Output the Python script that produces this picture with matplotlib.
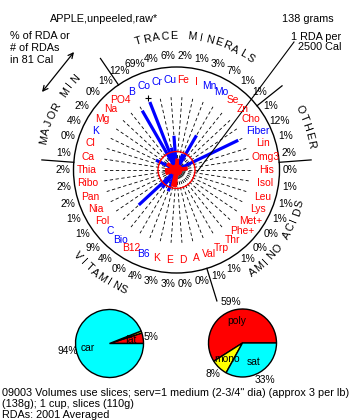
import numpy as np
import matplotlib.pyplot as plt

plt.rcParams['font.family'] = ['Liberation Sans', 'DejaVu Sans']

# nutrients clockwise, starting just above 9 o'clock
nutrients = ['Ca', 'Cl', 'K', 'Mg', 'Na', 'PO4',
             'B', 'Co', 'Cr', 'Cu', 'Fe', 'I', 'Mn', 'Mo', 'Se', 'Zn',
             'Cho', 'Fiber', 'Lin', 'Omg3',
             'His', 'Isol', 'Leu', 'Lys', 'Met+', 'Phe+', 'Thr', 'Trp', 'Val',
             'A', 'D', 'E', 'K', 'B6', 'B12', 'Bio', 'C', 'Fol', 'Nia', 'Pan', 'Ribo', 'Thia']
pct_rda = [1, 0, 4, 2, 0, 1,
           12, 69, 4, 6, 2, 1, 3, 7, 1, 1,
           1, 12, 1, 2,
           0, 1, 1, 1, 0, 0, 1, 1, 1,
           0, 0, 3, 3, 4, 0, 4, 9, 1, 1, 2, 2, 2]
# 1 = more than 1 RDA per 2500 Cal
over_rda = [0, 0, 1, 0, 0, 0,
            1, 1, 1, 1, 0, 0, 1, 1, 0, 0,
            0, 1, 0, 0,
            0, 0, 0, 0, 0, 0, 0, 0, 0,
            0, 0, 0, 0, 1, 0, 1, 1, 0, 0, 0, 0, 0]
groups = ['MAJOR MIN', 'TRACE MINERALS', 'OTHER', 'AMINO ACIDS', 'VITAMINS']
group_sizes = [6, 10, 4, 9, 13]

calories = 81
ref_cal = 2500

energy_labels = ['fat', '', 'car']
energy_pct = [5, 1, 94]
fat_labels = ['poly', 'mono', 'sat']
fat_pct = [59, 8, 33]

# layout (pixel units, y up)
W, H = 352, 420
CX, CY = 176.5, 250
R = 103
R_RED = 18.5
R_SPOKE = 73
R_LAB = 90
R_PCT = 114
sec_r = [136, 134, 137, 128, 131]
sec_step = [3.7, 3.85, 3.8, 3.76, 3.6]
sec_shift = [2.6, 0, -3, 0, 2]
FS = 7.8
FS_S = 7.4

fig = plt.figure(figsize=(W / 100, H / 100), dpi=100)
ax = fig.add_axes([0, 0, 1, 1])

n = len(nutrients)
step = 360 / n
ang = np.radians(180 - (np.arange(n) + 1) * step)


def pt(r, a):
    return CX + r * np.cos(a), CY + r * np.sin(a)


# dashed spokes
for a in ang:
    x1, y1 = pt(R_SPOKE, a)
    ax.plot([CX, x1], [CY, y1], color='black', lw=0.6, ls=(0, (4, 3)), zorder=1)

# bars
rda_unit = calories / ref_cal * 100
for i, a in enumerate(ang):
    L = pct_rda[i] / rda_unit * R_RED
    col = 'blue' if over_rda[i] else 'red'
    capped = L > R_SPOKE
    L = min(L, R_SPOKE)
    x1, y1 = pt(L, a)
    ax.plot([CX, x1], [CY, y1], color=col, lw=2.3 if col == 'blue' else 2.8,
            solid_capstyle='butt', zorder=3 if col == 'red' else 2)
    if capped:
        xp, yp = pt(R_SPOKE + 4, a)
        ax.plot(xp, yp, marker='+', color='black', ms=4, mew=0.8)

ax.add_patch(plt.Circle((CX, CY), R, fill=False, color='black', lw=1))
ax.add_patch(plt.Circle((CX, CY), R_RED, fill=False, color='red', lw=1, zorder=4))

# labels and percentages
for i, a in enumerate(ang):
    x, y = pt(R_LAB, a)
    ax.text(x, y, nutrients[i], color='blue' if over_rda[i] else 'red',
            fontsize=FS_S, ha='center', va='center')
    x, y = pt(R_PCT, a)
    ax.text(x, y, f'{pct_rda[i]}%', fontsize=FS_S, ha='center', va='center')

# group dividers and names
start = 0
for g, name in enumerate(groups):
    a0 = np.radians(180 - (start + 0.5) * step)
    r_out = 137 if g == 4 else 135
    xa, ya = pt(R, a0)
    xb, yb = pt(r_out, a0)
    ax.plot([xa, xb], [ya, yb], color='black', lw=0.9)
    mid = 180 - (start + group_sizes[g] / 2 + 0.5) * step + sec_shift[g]
    chars = list(name)
    m = len(chars)
    top = g < 3
    for j, ch in enumerate(chars):
        off = (j - (m - 1) / 2) * sec_step[g]
        a_deg = mid - off if top else mid + off
        x, y = pt(sec_r[g], np.radians(a_deg))
        rot = a_deg - 90 if top else a_deg + 90
        ax.text(x, y, ch, fontsize=FS, ha='center', va='center',
                rotation=rot, rotation_mode='anchor')
    start += group_sizes[g]

# 1 RDA pointer
ax.plot([294, 197], [378, 248], color='black', lw=0.8)
ax.annotate('', xy=(42, 328), xytext=(74, 368),
            arrowprops=dict(arrowstyle='<->', lw=0.9, color='black',
                            mutation_scale=9, shrinkA=0, shrinkB=0))


# pies
def pie(vals, labels, center, colors, pctd):
    w, t, at = ax.pie(vals, labels=labels, colors=colors, startangle=0,
                      counterclock=True, center=center, radius=34, frame=True,
                      labeldistance=0.66, pctdistance=pctd,
                      autopct=lambda p: f'{p:.0f}%' if p >= 2 else '',
                      wedgeprops=dict(edgecolor='black', linewidth=1),
                      textprops=dict(fontsize=FS_S))
    for tt in t:
        tt.set_ha('center')
        tt.set_va('center')


pie(energy_pct, energy_labels, (109.5, 76.5), ['red', 'yellow', 'cyan'], 1.25)
pie(fat_pct, fat_labels, (242.5, 77), ['red', 'yellow', 'cyan'], 1.27)

# texts
ax.text(50, 401, 'APPLE,unpeeled,raw*', fontsize=FS, va='center')
ax.text(282, 401, '138 grams', fontsize=FS, va='center')
for k, s in enumerate(['% of RDA or', '# of RDAs', 'in 81 Cal']):
    ax.text(10, 384 - 12 * k, s, fontsize=FS, va='center')
ax.text(341, 383, '1 RDA per', fontsize=FS, va='center', ha='right')
ax.text(341, 373, '2500 Cal', fontsize=FS, va='center', ha='right')
foot = ['09003 Volumes use slices; serv=1 medium (2-3/4" dia) (approx 3 per lb)',
        '(138g); 1 cup, slices (110g)',
        'RDAs: 2001 Averaged']
for k, s in enumerate(foot):
    ax.text(2, 27 - 11 * k, s, fontsize=7.8, va='center')

ax.set_xlim(0, W)
ax.set_ylim(0, H)
ax.set_aspect('equal')
ax.axis('off')
fig.savefig('out.png', dpi=100, facecolor='white')
